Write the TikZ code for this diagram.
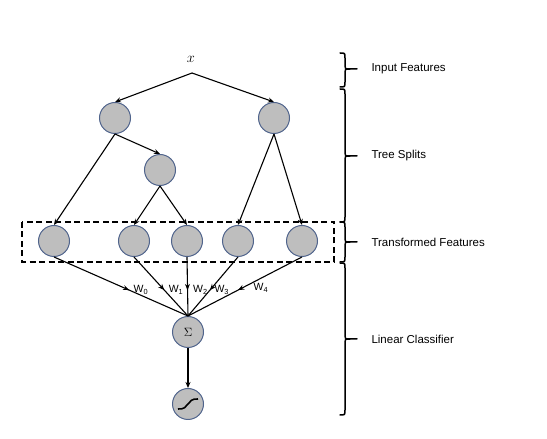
\documentclass[tikz,border=0pt]{standalone}
\usepackage{fontspec}
\setsansfont{Liberation Sans}
\usetikzlibrary{arrows.meta, decorations.markings, positioning}
\definecolor{nodeedge}{RGB}{80,100,140}
\definecolor{nodefill}{RGB}{190,190,190}

\tikzset{
  feat/.style={circle, draw=nodeedge, fill=nodefill, line width=1pt, minimum size=31pt, inner sep=0pt},
  split/.style={-{Stealth[length=6pt,width=5pt]}, line width=1.1pt},
  wline/.style={line width=1.1pt, postaction={decorate},
    decoration={markings, mark=at position 0.56 with {\arrow{Stealth[length=6pt,width=5pt]}}}},
  wlab/.style={pos=0.56, anchor=west, inner sep=1pt, font=\sffamily\fontsize{10.5}{12}\selectfont},
  bracepath/.style={line width=1.5pt, line cap=round},
  bracelab/.style={anchor=west, font=\sffamily\fontsize{11.5}{13}\selectfont}
}

\begin{document}
\begin{tikzpicture}[x=1pt, y=1pt]
  \useasboundingbox (0,0) rectangle (547,439);

  % input and tree
  \node[font=\Large] (xin) at (191,380) {$x$};
  \coordinate (apex) at (192,366);
  \node[feat] (sa) at (115,321) {};
  \node[feat] (sb) at (274,321) {};
  \node[feat] (sc) at (160,269) {};

  % transformed features
  \node[feat] (f0) at (54,198) {};
  \node[feat] (f1) at (134,198) {};
  \node[feat] (f2) at (187,198) {};
  \node[feat] (f3) at (238,198) {};
  \node[feat] (f4) at (302,198) {};
  \draw[dashed, dash pattern=on 6pt off 3.5pt, line width=1.3pt] (22,217) rectangle (334,177);

  % classifier
  \node[feat, font=\large] (sig) at (188,107) {$\Sigma$};
  \node[feat] (sg) at (188,35) {};
  \draw[line width=1.6pt] ([shift={(-10,-5)}]sg.center) .. controls ([shift={(2,-6)}]sg.center) and ([shift={(-2,6)}]sg.center) .. ([shift={(10,5)}]sg.center);

  \draw[split] (apex) -- (sa.north);
  \draw[split] (apex) -- (sb.north);
  \draw[split] (sa.south) -- (sc.north);
  \draw[split] (sa.south) -- (f0.north);
  \draw[split] (sc.south) -- (f1.north);
  \draw[split] (sc.south) -- (f2.north);
  \draw[split] (sb.south) -- (f3.north);
  \draw[split] (sb.south) -- (f4.north);

  \draw[wline] (f0.south) -- node[wlab, xshift=3pt] {W\textsubscript{0}} (sig.north);
  \draw[wline] (f1.south) -- node[wlab, xshift=3pt] {W\textsubscript{1}} (sig.north);
  \draw[wline] (f2.south) -- node[wlab, xshift=4pt] {W\textsubscript{2}} (sig.north);
  \draw[wline] (f3.south) -- node[wlab, xshift=3pt] {W\textsubscript{3}} (sig.north);
  \draw[wline] (f4.south) -- node[wlab, xshift=14pt, yshift=2pt] {W\textsubscript{4}} (sig.north);
  \draw[split] (sig) -- (sg);

  % braces
  \draw[bracepath] (340,386) .. controls (345,386) .. (345,381) -- (345,373)
    .. controls (345,370) .. (350,370) -- (357,370);
  \draw[bracepath] (350,370) .. controls (345,370) .. (345,367) -- (345,357)
    .. controls (345,352) .. (340,352);
  \draw[bracepath] (340,350) .. controls (345,350) .. (345,345) -- (345,286)
    .. controls (345,283) .. (350,283) -- (357,283);
  \draw[bracepath] (350,283) .. controls (345,283) .. (345,280) -- (345,222)
    .. controls (345,217) .. (340,217);
  \draw[bracepath] (340,217) .. controls (345,217) .. (345,212) -- (345,200)
    .. controls (345,197) .. (350,197) -- (357,197);
  \draw[bracepath] (350,197) .. controls (345,197) .. (345,194) -- (345,182)
    .. controls (345,177) .. (340,177);
  \draw[bracepath] (340,176) .. controls (345,176) .. (345,171) -- (345,103)
    .. controls (345,100) .. (350,100) -- (357,100);
  \draw[bracepath] (350,100) .. controls (345,100) .. (345,97) -- (345,29)
    .. controls (345,24) .. (340,24);

  \node[bracelab] (lbin) at (368,370) {Input Features};
  \node[bracelab] (lbtree) at (368,283) {Tree Splits};
  \node[bracelab] (lbtrans) at (368,197) {Transformed Features};
  \node[bracelab] (lblin) at (368,100) {Linear Classifier};
\end{tikzpicture}
\end{document}
